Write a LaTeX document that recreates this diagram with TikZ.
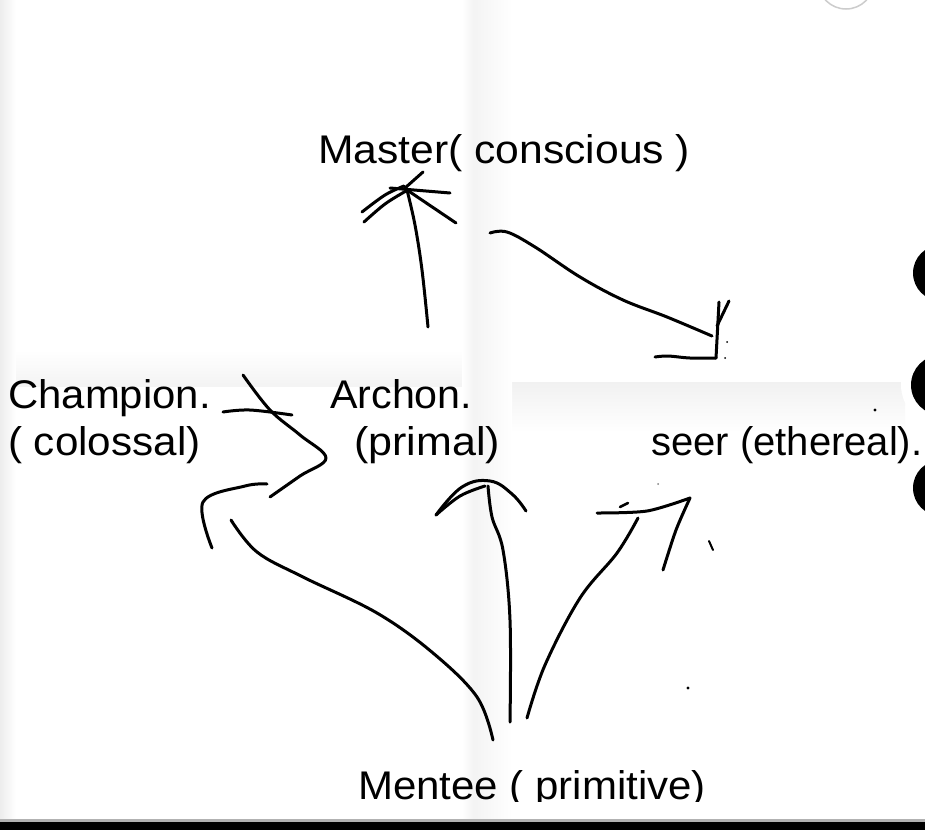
\documentclass[tikz,border=0pt]{standalone}
\usepackage{fontspec}
\setmainfont{Liberation Sans}
\begin{document}
\begin{tikzpicture}[x=1pt,y=-1pt,
  pen/.style={line width=3pt,line cap=round,line join=round,black},
  lbl/.style={anchor=base west,inner sep=0pt,font=\fontsize{40}{48}\selectfont}]
\useasboundingbox (0,0) rectangle (925,830);
% background
\fill[white] (0,0) rectangle (925,830);
\shade[left color=gray!14,right color=white] (0,0) rectangle (16,820);
\shade[top color=white,bottom color=gray!9] (16,350) rectangle (462,386);
\shade[top color=gray!11,bottom color=white] (512,382) rectangle (905,432);
\shade[left color=white,right color=gray!9] (462,0) rectangle (474,820);
\shade[left color=gray!9,right color=white] (474,0) rectangle (512,820);
\fill[white] (941,385) circle (40);
\draw[gray!40,line width=1.5pt] (846,-19) circle (28);
% right edge circles
\fill[black] (941,273) circle (28);
\fill[black] (941,385) circle (30);
\fill[black] (941,488) circle (28);
% bottom bar
\fill[gray!60] (0,819) rectangle (925,822);
\fill[black] (0,822) rectangle (925,830);
% labels
\node[lbl] (master) at (318,163) {\scalebox{1.066}[1]{Master( conscious )}};
\node[lbl] (champ1) at (8,408) {\scalebox{1.047}[1]{Champion.}};
\node[lbl] (champ2) at (8,455) {\scalebox{1.055}[1]{( colossal)}};
\node[lbl] (archon1) at (330,408) {\scalebox{1.03}[1]{Archon.}};
\node[lbl] (archon2) at (354,455) {\scalebox{1.075}[1]{(primal)}};
\node[lbl] (seer) at (651,455) {seer (ethereal).};
\begin{scope}
\clip (0,700) rectangle (925,801);
\node[lbl] (mentee) at (358,799) {\scalebox{1.05}[1]{Mentee ( primitive)}};
\end{scope}
% Archon -> Master
\draw[pen] plot[smooth,tension=0.6] coordinates {(428,327) (422,270) (415,225) (407,190)};
\draw[pen] plot[smooth,tension=0.6] coordinates {(362,212) (385,195) (404,186)};
\draw[pen] plot[smooth,tension=0.6] coordinates {(364,222) (385,204) (406,191)};
\draw[pen] (390,188) -- (450,193);
\draw[pen] (410,192) -- (456,223);
\draw[pen] (405,188) -- (423,172);
% Master -> seer
\draw[pen] plot[smooth,tension=0.6] coordinates {(490,233) (507,232) (535,247) (580,277) (623,300) (667,317) (712,336)};
\draw[pen] (719,302) -- (716,358);
\draw[pen] plot[smooth,tension=0.6] coordinates {(716,358) (690,358) (668,356) (655,357)};
\draw[pen] (717,326) -- (729,301);
% Champion / Archon cross mark
\draw[pen] plot[smooth,tension=0.6] coordinates {(243,375) (270,410) (300,435) (326,458) (300,476) (270,497)};
\draw[pen] plot[smooth,tension=0.6] coordinates {(223,412) (250,410) (292,415)};
\draw[pen] plot[smooth,tension=0.6] coordinates {(267,484) (245,486) (203,502) (212,548)};
% Mentee -> Champion
\draw[pen] plot[smooth,tension=0.6] coordinates {(231,520) (257,552) (303,577) (377,613) (433,653) (477,697) (493,740)};
% Mentee -> Archon
\draw[pen] plot[smooth,tension=0.6] coordinates {(510,722) (510,620) (503,550) (492,517) (488,486)};
\draw[pen] plot[smooth,tension=0.7] coordinates {(436,515) (462,487) (490,481) (512,494) (526,511)};
\draw[pen] plot[smooth,tension=0.6] coordinates {(436,515) (460,496) (485,486)};
% Mentee -> seer
\draw[pen] plot[smooth,tension=0.6] coordinates {(527,718) (545,665) (580,598) (617,553) (638,518)};
\draw[pen] plot[smooth,tension=0.5] coordinates {(597,513) (647,511) (690,498)};
\draw[pen] plot[smooth,tension=0.5] coordinates {(690,498) (676,530) (663,570)};
\draw[pen,line width=2.5pt] (620,507) -- (628,503);
\draw[pen,line width=2pt] (709,541) -- (713,550);
% specks
\fill[black] (875,410) circle (1.6);
\fill[black] (688,688) circle (1.6);
\fill[black] (727,342) circle (1);
\fill[black] (725,358) circle (1);
\fill[gray] (658,484) circle (1);
\end{tikzpicture}
\end{document}
